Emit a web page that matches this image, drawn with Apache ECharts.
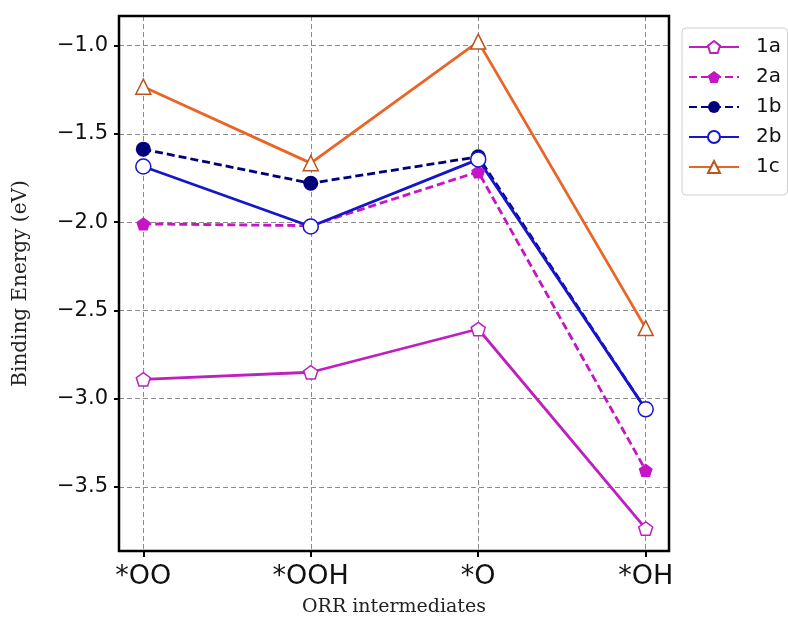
<!DOCTYPE html>
<html>
<head>
<meta charset="utf-8">
<script src="https://cdn.jsdelivr.net/npm/echarts@6/dist/echarts.min.js"></script>
<style>html,body{margin:0;padding:0;background:#fff}#c{width:788px;height:626px}</style>
</head>
<body>
<div id="c"></div>
<script>
var categories = ['*OO', '*OOH', '*O', '*OH'];
var seriesNames = ['1a', '2a', '1b', '2b', '1c'];
var values1a = [-2.89, -2.85, -2.605, -3.735];
var values2a = [-2.01, -2.02, -1.715, -3.405];
var values1b = [-1.587, -1.78, -1.63, -3.06];
var values2b = [-1.685, -2.025, -1.645, -3.06];
var values1c = [-1.233, -1.666, -0.978, -2.60];
var yTicks = [-3.5, -3.0, -2.5, -2.0, -1.5, -1.0];

var pent = 'path://M0,-1L0.951,-0.309L0.588,0.809L-0.588,0.809L-0.951,-0.309Z';
var chart = echarts.init(document.getElementById('c'), null, {renderer: 'canvas'});
var gridDash = {show: true, lineStyle: {color: '#8a8a8a', type: [5, 3], width: 1}};
var hidden = {show: false};

function mk(name, data, color, dashed, symbol, size, hollow, edge) {
  return {
    name: name, type: 'line', xAxisIndex: 2, yAxisIndex: 2, data: data,
    symbol: symbol, symbolSize: size, symbolKeepAspect: true, showAllSymbol: true,
    lineStyle: {color: color, width: 2.8, type: dashed ? [8, 4] : 'solid'},
    itemStyle: {color: hollow ? '#ffffff' : color, borderColor: edge || color, borderWidth: hollow ? 1.5 : 0},
    emphasis: {disabled: true}, animation: false
  };
}

chart.setOption({
  animation: false,
  backgroundColor: '#fff',
  grid: [
    {left: 119, right: 119, top: 45.5, bottom: 139, containLabel: false, outerBoundsMode: 'none'},
    {left: 119, right: 119, top: 16, bottom: 75, show: true, borderColor: '#000', borderWidth: 2.5, backgroundColor: 'transparent', z: 5, containLabel: false, outerBoundsMode: 'none'},
    {left: 143.3, right: 142.3, top: 16, bottom: 75, containLabel: false, outerBoundsMode: 'none'}
  ],
  xAxis: [
    {type: 'value', gridIndex: 0, show: false, min: 0, max: 1},
    {type: 'value', gridIndex: 1, min: 0, max: 1, name: 'ORR intermediates', nameLocation: 'middle', nameGap: 47,
      nameTextStyle: {fontFamily: 'DejaVu Serif', fontSize: 19, color: '#222'},
      axisLine: hidden, axisTick: hidden, axisLabel: hidden, splitLine: hidden},
    {type: 'category', gridIndex: 2, data: categories, boundaryGap: false,
      axisLine: hidden,
      axisTick: {show: true, inside: false, length: 6, lineStyle: {color: '#000', width: 2}},
      axisLabel: {fontFamily: 'DejaVu Sans', fontSize: 27, color: '#111', margin: 12},
      splitLine: gridDash}
  ],
  yAxis: [
    {type: 'value', gridIndex: 0, min: yTicks[0], max: yTicks[yTicks.length - 1], interval: 0.5,
      axisLine: hidden,
      axisTick: {show: true, inside: false, length: 5, lineStyle: {color: '#000', width: 2}},
      axisLabel: {fontFamily: 'DejaVu Sans', fontSize: 21, color: '#111', margin: 11,
        formatter: function (v) { return (v < 0 ? '\u2212' : '') + Math.abs(v).toFixed(1); }},
      splitLine: gridDash},
    {type: 'value', gridIndex: 1, min: 0, max: 1, name: 'Binding Energy (eV)', nameLocation: 'middle', nameGap: 88,
      nameTextStyle: {fontFamily: 'DejaVu Serif', fontSize: 20, color: '#222'},
      axisLine: hidden, axisTick: hidden, axisLabel: hidden, splitLine: hidden},
    {type: 'value', gridIndex: 2, min: -3.862, max: -0.833, show: false}
  ],
  legend: {
    orient: 'vertical', left: 682, top: 28,
    itemWidth: 50, itemHeight: 15, itemGap: 10,
    padding: [9, 6, 18, 6],
    borderColor: '#d0d0d0', borderWidth: 1, borderRadius: 4,
    textStyle: {fontFamily: 'DejaVu Sans', fontSize: 20, color: '#111', padding: [0, 0, 0, 12]},
    data: seriesNames
  },
  series: [
    mk(seriesNames[0], values1a, '#bf1fbf', false, pent, 14, true),
    mk(seriesNames[1], values2a, '#c515c5', true, pent, 14, false),
    mk(seriesNames[2], values1b, '#00007a', true, 'circle', 15, false),
    mk(seriesNames[3], values2b, '#1515cc', false, 'circle', 15, true),
    mk(seriesNames[4], values1c, '#ea6426', false, 'triangle', 15, true, '#b8561e')
  ]
});
</script>
</body>
</html>
